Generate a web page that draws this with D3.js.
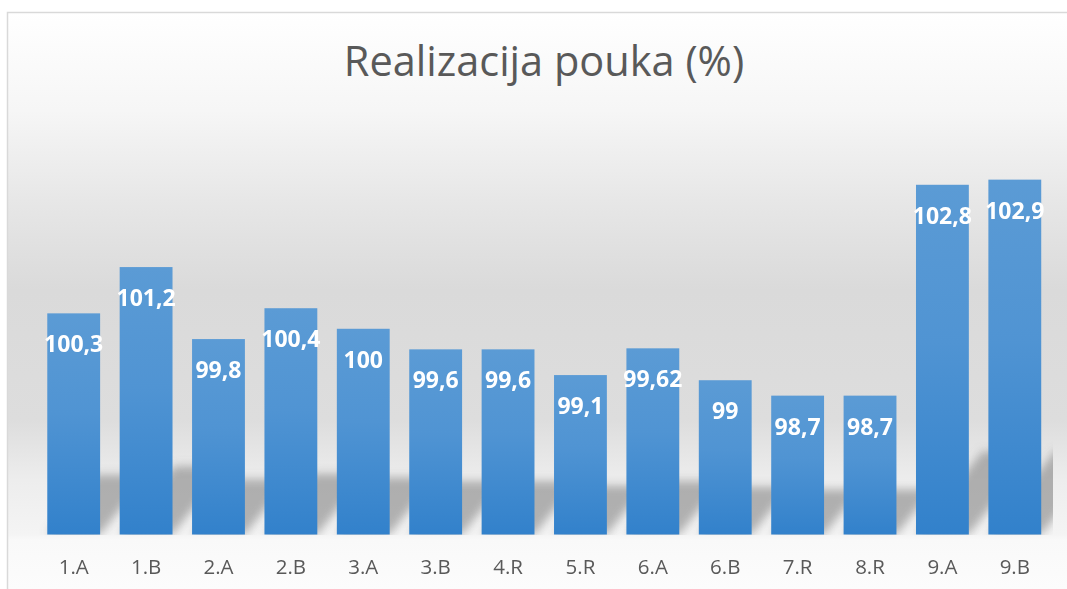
<!DOCTYPE html>
<html>
<head>
<meta charset="utf-8">
<script src="https://cdn.jsdelivr.net/npm/d3@7"></script>
<style>
  html, body { margin: 0; padding: 0; background: #fff; }
  svg { display: block; }
</style>
</head>
<body>
<div id="chart"></div>
<script>
const title = "Realizacija pouka (%)";
const categories = ["1.A", "1.B", "2.A", "2.B", "3.A", "3.B", "4.R", "5.R", "6.A", "6.B", "7.R", "8.R", "9.A", "9.B"];
const values = [100.3, 101.2, 99.8, 100.4, 100, 99.6, 99.6, 99.1, 99.62, 99, 98.7, 98.7, 102.8, 102.9];
const yDomain = [96, 103];

const width = 1067;
const height = 589;
const baseY = 534.5;

const svg = d3.select("#chart")
  .append("svg")
  .attr("width", width)
  .attr("height", height);

const defs = svg.append("defs");

// chart background: white on top, grey in the middle, light near the floor
const bg = defs.append("linearGradient")
  .attr("id", "bg")
  .attr("gradientUnits", "userSpaceOnUse")
  .attr("x1", 0).attr("y1", 12).attr("x2", 0).attr("y2", height);
[[12, "#ffffff"], [110, "#f6f6f6"], [200, "#e7e7e7"], [290, "#dadada"], [420, "#dddddd"],
 [480, "#ededed"], [534, "#f4f4f4"], [540, "#f9f9f9"], [589, "#fcfcfc"]]
  .forEach(([y, c]) => bg.append("stop").attr("offset", (y - 12) / (height - 12)).attr("stop-color", c));

const barGrad = defs.append("linearGradient")
  .attr("id", "bar")
  .attr("x1", 0).attr("y1", 0).attr("x2", 0).attr("y2", 1);
barGrad.append("stop").attr("offset", 0).attr("stop-color", "#5b9bd5");
barGrad.append("stop").attr("offset", 0.45).attr("stop-color", "#5094d3");
barGrad.append("stop").attr("offset", 1).attr("stop-color", "#3281cb");

defs.append("filter")
  .attr("id", "blur")
  .attr("x", "-30%").attr("y", "-30%").attr("width", "160%").attr("height", "160%")
  .append("feGaussianBlur")
  .attr("stdDeviation", 5);

// shadows stay inside the plot area
defs.append("clipPath")
  .attr("id", "aboveFloor")
  .append("rect")
  .attr("x", 0).attr("y", 0).attr("width", 1053).attr("height", baseY);

svg.append("rect")
  .attr("x", 7.5).attr("y", 12.5)
  .attr("width", width + 20).attr("height", height + 20)
  .attr("fill", "url(#bg)")
  .attr("stroke", "#d9d9d9")
  .attr("stroke-width", 1.5);

const x = d3.scaleBand()
  .domain(categories)
  .range([37.5, 1051])
  .paddingInner(0.27)
  .paddingOuter(0.135);

const y = d3.scaleLinear()
  .domain(yDomain)
  .range([baseY, 174.5]);

const data = categories.map((c, i) => ({ cat: c, value: values[i] }));

// perspective shadows behind the bars
svg.append("g")
  .attr("clip-path", "url(#aboveFloor)")
  .append("g")
  .attr("filter", "url(#blur)")
  .selectAll("polygon")
  .data(data)
  .join("polygon")
  .attr("points", (d) => {
    const x0 = x(d.cat), x1 = x0 + x.bandwidth();
    const h = baseY - y(d.value);
    const s = 20 + 0.18 * h;
    const dx = s * 0.8;
    return [[x0, baseY], [x1, baseY], [x1 + dx, baseY - s], [x0 + dx, baseY - s]].join(" ");
  })
  .attr("fill", "#7a7a7a")
  .attr("opacity", 0.55);

svg.append("g")
  .selectAll("rect")
  .data(data)
  .join("rect")
  .attr("x", (d) => x(d.cat))
  .attr("y", (d) => y(d.value))
  .attr("width", x.bandwidth())
  .attr("height", (d) => baseY - y(d.value))
  .attr("fill", "url(#bar)");

svg.append("g")
  .selectAll("text")
  .data(data)
  .join("text")
  .attr("x", (d) => x(d.cat) + x.bandwidth() / 2)
  .attr("y", (d) => y(d.value) + 39)
  .attr("text-anchor", "middle")
  .attr("fill", "#ffffff")
  .attr("font-family", '"Open Sans", sans-serif')
  .attr("font-weight", "bold")
  .attr("font-size", "23px")
  .text((d) => String(d.value).replace(".", ","));

const xAxis = svg.append("g")
  .attr("transform", `translate(0,${baseY})`)
  .call(d3.axisBottom(x).tickSize(0).tickPadding(0));
xAxis.select(".domain").remove();
xAxis.selectAll("text")
  .attr("dy", null)
  .attr("y", 39)
  .attr("fill", "#595959")
  .attr("font-family", '"Open Sans", sans-serif')
  .attr("font-size", "20.5px");

svg.append("text")
  .attr("x", 544)
  .attr("y", 76)
  .attr("text-anchor", "middle")
  .attr("fill", "#595959")
  .attr("font-family", '"Open Sans", sans-serif')
  .attr("font-size", "41.5px")
  .text(title);
</script>
</body>
</html>
